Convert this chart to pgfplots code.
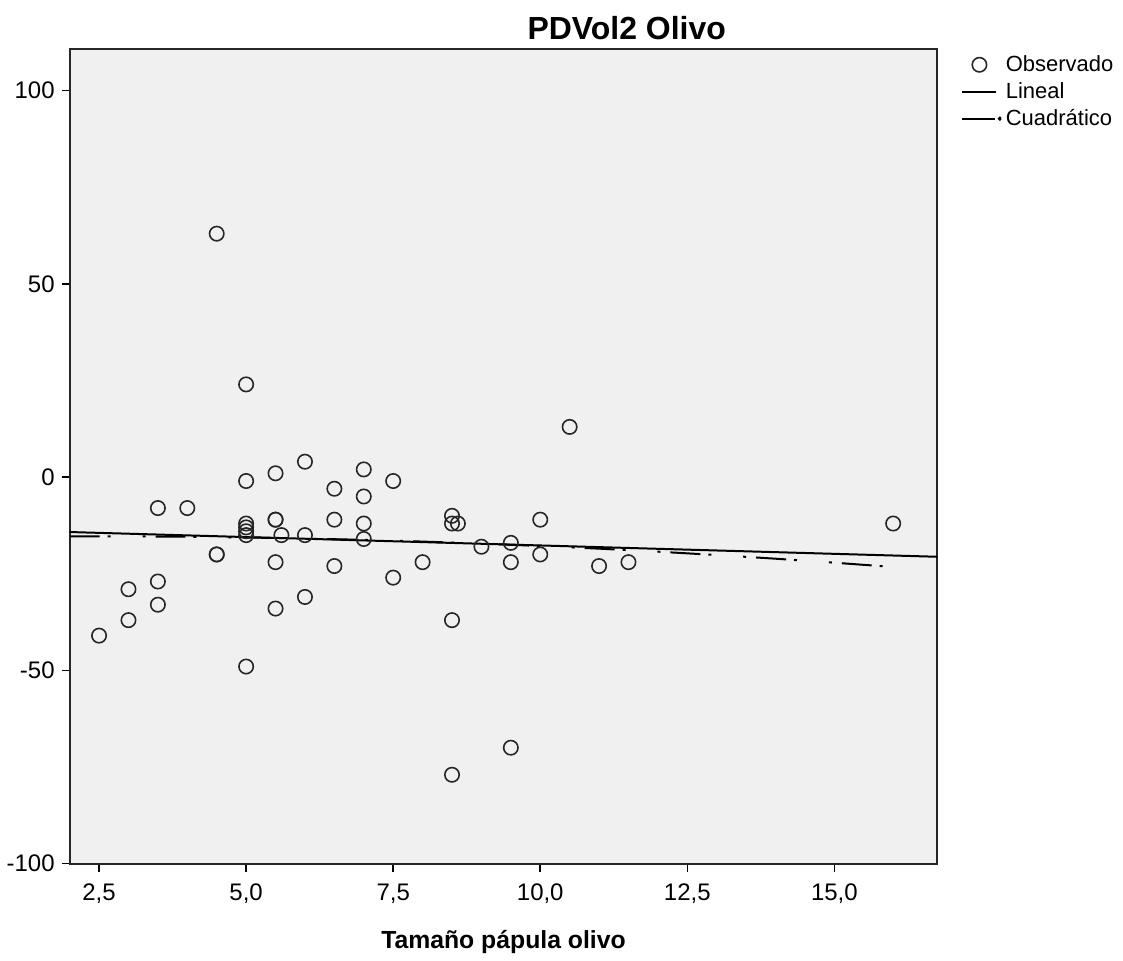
\documentclass[border=0pt]{standalone}
\usepackage{fontspec}
\setmainfont{Liberation Sans}
\usepackage{pgfplots}
\pgfplotsset{compat=1.18}
\definecolor{plotbg}{HTML}{F0F0F0}
\begin{document}
\begin{tikzpicture}
\begin{axis}[
  scale only axis=true,
  width=434.5pt, height=408pt,
  xmin=2, xmax=16.75, ymin=-100, ymax=110.8,
  axis background/.style={fill=plotbg},
  axis line style={line width=1pt, black!85},
  tick style={line width=0.8pt, black},
  tick align=outside, major tick length=4pt,
  xtick pos=bottom, ytick pos=left,
  xtick={2.5,5,7.5,10,12.5,15},
  xticklabels={{2,5},{5,0},{7,5},{10,0},{12,5},{15,0}},
  ytick={-100,-50,0,50,100},
  yticklabels={-100,-50,0,50,100},
  tick label style={font=\fontsize{12}{14}\selectfont},
  xticklabel style={yshift=-2.5pt},
  title={\textbf{PDVol2 Olivo}},
  title style={at={(0.642,1)}, anchor=base, yshift=-1.5pt, font=\fontsize{16}{19}\selectfont},
  xlabel={\textbf{Tamaño pápula olivo}},
  xlabel style={at={(0.5,0)}, anchor=base, yshift=-42.5pt, font=\fontsize{12.4}{15}\selectfont},
  legend style={draw=none, fill=none, at={(1.025,1.0)}, anchor=north west,
    font=\fontsize{11}{13}\selectfont, row sep=0pt, inner sep=1pt},
  legend cell align=left,
]
\addplot[only marks, mark=o, mark size=3.6pt, mark options={line width=0.8pt, black!85}] coordinates {
(2.5,-41) (3.0,-29) (3.0,-37) (3.5,-8) (3.5,-27) (3.5,-33) (4.0,-8)
(4.5,-20) (4.5,-20) (4.5,63)
(5.0,24) (5.0,-1) (5.0,-12) (5.0,-13) (5.0,-14) (5.0,-15) (5.0,-49)
(5.5,1) (5.5,-11) (5.5,-11) (5.5,-22) (5.5,-34) (5.6,-15)
(6.0,4) (6.0,-15) (6.0,-31)
(6.5,-3) (6.5,-11) (6.5,-23)
(7.0,2) (7.0,-5) (7.0,-12) (7.0,-16)
(7.5,-1) (7.5,-26) (8.0,-22)
(8.5,-10) (8.5,-12) (8.6,-12) (8.5,-37) (8.5,-77)
(9.0,-18) (9.5,-17) (9.5,-22) (9.5,-70)
(10.0,-11) (10.0,-20) (10.5,13) (11.0,-23) (11.5,-22) (16.0,-12)
};
\addlegendentry{Observado}
\addplot[black, line width=1pt] coordinates {(2,-14.2) (16.75,-20.6)};
\addlegendentry{Lineal}
\addplot[black, line width=1pt, dash pattern=on 15pt off 4pt on 1.5pt off 16pt on 1.5pt off 5pt,
  legend image code/.code={\draw[solid, line width=1pt] (0cm,0cm) -- (0.58cm,0cm);
    \fill (0.66cm,0cm) circle (0.5pt);}] coordinates {
(2,-15.30) (3,-15.32) (4,-15.42) (5,-15.61) (6,-15.88) (7,-16.23) (8,-16.67)
(9,-17.20) (10,-17.81) (11,-18.50) (12,-19.28) (13,-20.15) (14,-21.10)
(15,-22.13) (16,-23.25) (16.3,-23.6)
};
\addlegendentry{Cuadrático}
\end{axis}
\path[use as bounding box] (-34pt,-47.5pt) rectangle (527.5pt,432.5pt);
\end{tikzpicture}
\end{document}
